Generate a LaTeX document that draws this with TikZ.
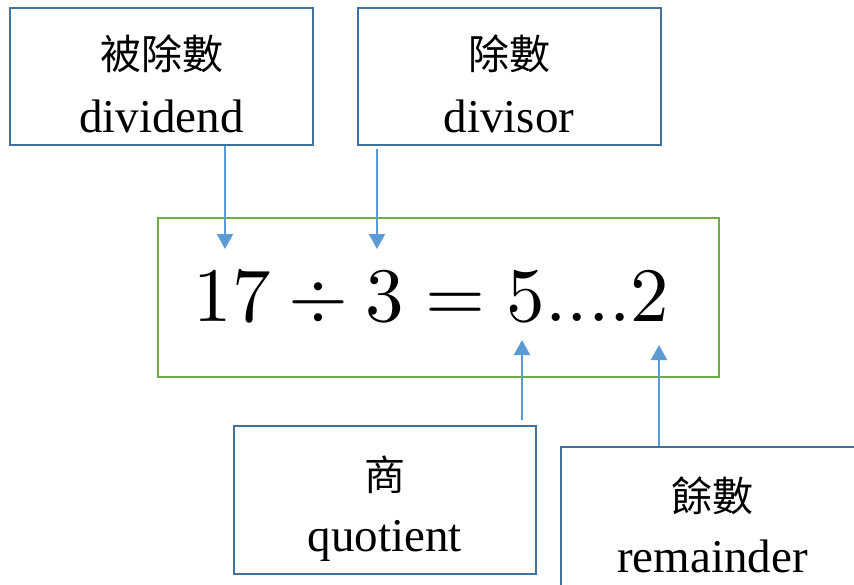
\documentclass[tikz,border=0pt]{standalone}
\usepackage{fontspec}
\usepackage{unicode-math}
\setmainfont{Liberation Serif}
\setmathfont{Latin Modern Math}
\newfontfamily\cjk{Noto Sans CJK TC}
\usetikzlibrary{arrows.meta}
\definecolor{boxblue}{HTML}{41719C}
\definecolor{arrblue}{HTML}{5B9BD5}
\definecolor{eqgreen}{HTML}{70AD47}
\begin{document}
\begin{tikzpicture}[x=1pt,y=-1pt,
  lbox/.style={draw=boxblue,line width=2pt,minimum width=303pt,inner sep=0pt},
  cn/.style={font=\cjk\fontsize{41}{43}\selectfont,inner sep=0pt},
  en/.style={font=\fontsize{47}{50}\selectfont,inner sep=0pt,anchor=base},
  arr/.style={draw=arrblue,line width=2pt,-{Triangle[length=15pt,width=16pt]}}]
\useasboundingbox (0,0) rectangle (854,584);
\clip (0,0) rectangle (854,584);
% boxes
\node[lbox,minimum height=137pt] (dividend) at (161.5,76.5) {};
\node[lbox,minimum height=137pt] (divisor) at (509,76.5) {};
\node[lbox,minimum width=302pt,minimum height=148pt] (quotient) at (385,500) {};
\node[lbox,minimum height=152pt] (remainder) at (712.5,523) {};
\node[draw=eqgreen,line width=2pt,minimum width=561pt,minimum height=159pt,inner sep=0pt] (eqbox) at (438.5,297.5) {};
% texts
\node[cn] (dividendcn) at (161.5,54) {被除數};
\node[en] (dividenden) at (161.5,132) {dividend};
\node[cn] (divisorcn) at (509,54) {除數};
\node[en] (divisoren) at (509,132) {divisor};
\node[cn] (quotientcn) at (385,475) {商};
\node[en] (quotienten) at (385,551) {quotient};
\node[cn] (remaindercn) at (712.5,496) {餘數};
\node[en] (remainderen) at (712.5,572) {remainder};
\node[anchor=base,inner sep=0pt,font=\fontsize{77}{80}\selectfont] (eq) at (431.5,321) {$17\div3=5....2$};
% arrows
\coordinate (t1) at (225,249);
\coordinate (t2) at (377,249);
\coordinate (s3) at (522,420);
\coordinate (t3) at (522,340);
\coordinate (t4) at (659,345);
\draw[arr] (dividend.south -| t1) -- (t1);
\draw[arr] ([yshift=-3pt]divisor.south -| t2) -- (t2);
\draw[arr] (s3) -- (t3);
\draw[arr] (remainder.north -| t4) -- (t4);
\end{tikzpicture}
\end{document}
